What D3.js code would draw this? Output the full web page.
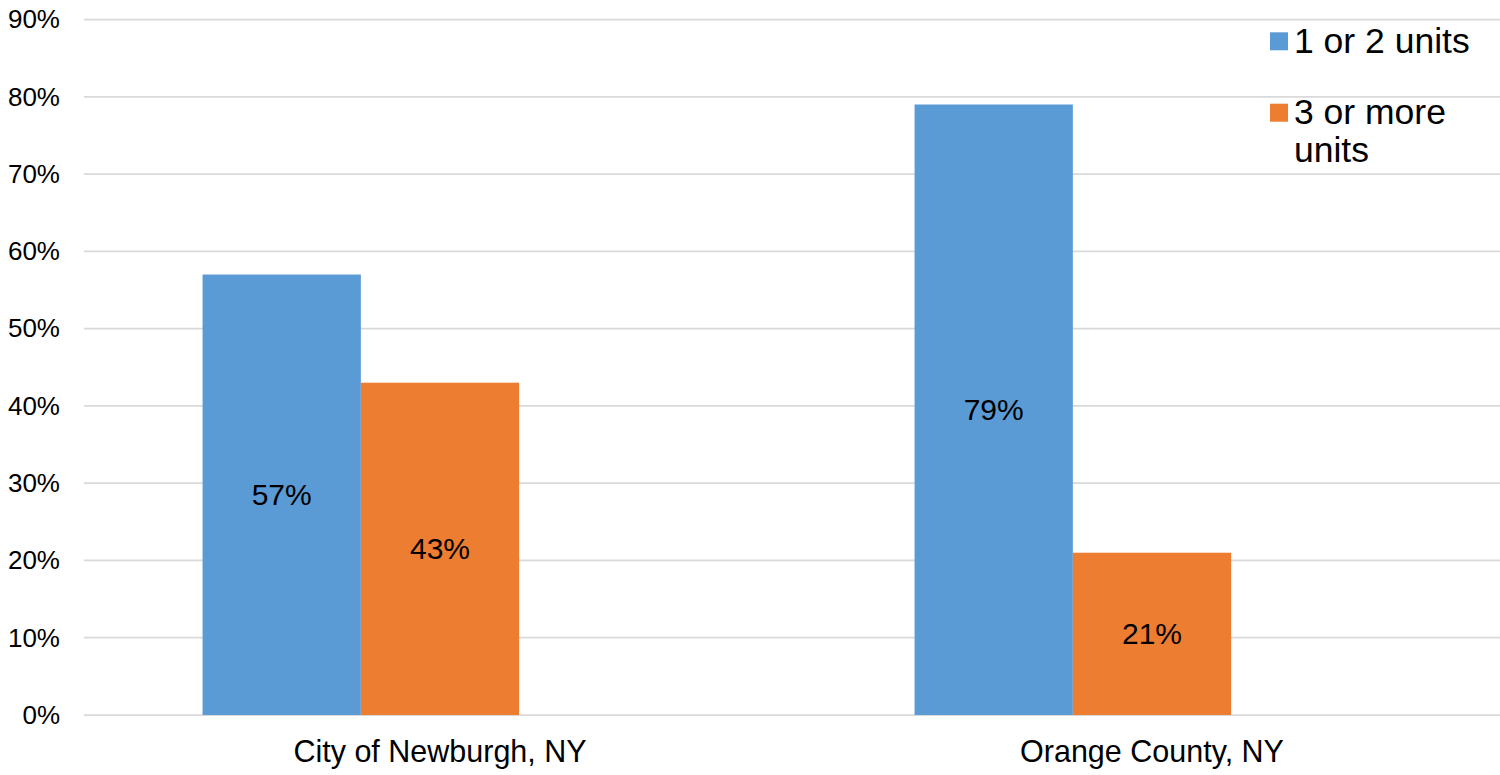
<!DOCTYPE html>
<html>
<head>
<meta charset="utf-8">
<script src="https://cdn.jsdelivr.net/npm/d3@7"></script>
<style>
  html, body { margin: 0; padding: 0; background: #fff; }
  svg { display: block; font-family: "Liberation Sans", Arial, sans-serif; }
</style>
</head>
<body>
<svg id="chart" width="1500" height="775"></svg>
<script>
// Housing structure type: share of units by building size
const categories = ["City of Newburgh, NY", "Orange County, NY"];
const seriesNames = ["1 or 2 units", "3 or more units"];
const oneOrTwoUnits = [0.57, 0.79];
const threeOrMoreUnits = [0.43, 0.21];
const yTicks = [0, 0.1, 0.2, 0.3, 0.4, 0.5, 0.6, 0.7, 0.8, 0.9];
const colors = ["#5B9BD5", "#ED7D31"];

const seriesValues = [oneOrTwoUnits, threeOrMoreUnits];
const rows = categories.map((c, i) => ({
  category: c,
  values: seriesNames.map((s, j) => ({ series: s, idx: j, value: seriesValues[j][i] }))
}));

const svg = d3.select("#chart");

const plot = { left: 84, right: 1508, top: 19.5, bottom: 715 };

const x0 = d3.scaleBand()
  .domain(categories)
  .range([plot.left, plot.right])
  .padding(0);

// Each cluster has room for three bar slots; the series fill the first two.
const x1 = d3.scaleBand()
  .domain(d3.range(3))
  .range([0, x0.bandwidth()])
  .paddingInner(0)
  .paddingOuter(0.749);

const y = d3.scaleLinear()
  .domain([0, 0.9])
  .range([plot.bottom, plot.top]);

// Horizontal gridlines
svg.append("g")
  .selectAll("line")
  .data(yTicks)
  .join("line")
  .attr("x1", plot.left)
  .attr("x2", plot.right)
  .attr("y1", d => y(d))
  .attr("y2", d => y(d))
  .attr("stroke", "#d9d9d9")
  .attr("stroke-width", 1.75);

// Y axis labels
const yAxis = d3.axisLeft(y)
  .tickValues(yTicks)
  .tickFormat(d3.format(".0%"))
  .tickSize(0)
  .tickPadding(24);

const yg = svg.append("g")
  .attr("transform", `translate(${plot.left},0)`)
  .call(yAxis);
yg.select(".domain").remove();
yg.selectAll("text")
  .attr("font-size", 26)
  .attr("fill", "#000")
  .attr("font-family", "Liberation Sans, Arial, sans-serif");

// Bars
const groups = svg.append("g")
  .selectAll("g")
  .data(rows)
  .join("g")
  .attr("transform", d => `translate(${x0(d.category)},0)`);

groups.selectAll("rect")
  .data(d => d.values)
  .join("rect")
  .attr("x", d => x1(d.idx))
  .attr("width", x1.bandwidth())
  .attr("y", d => y(d.value))
  .attr("height", d => y(0) - y(d.value))
  .attr("fill", d => colors[d.idx]);

// Value labels centred in each bar
groups.selectAll("text")
  .data(d => d.values)
  .join("text")
  .attr("x", d => x1(d.idx) + x1.bandwidth() / 2)
  .attr("y", d => (y(d.value) + y(0)) / 2)
  .attr("dy", "0.35em")
  .attr("text-anchor", "middle")
  .attr("font-size", 30)
  .attr("fill", "#000")
  .text(d => d3.format(".0%")(d.value));

// Category axis labels
const xAxis = d3.axisBottom(x0).tickSize(0).tickPadding(25);
const xg = svg.append("g")
  .attr("transform", `translate(0,${plot.bottom})`)
  .call(xAxis);
xg.select(".domain").remove();
xg.selectAll("text")
  .attr("font-size", 30.5)
  .attr("fill", "#000")
  .attr("font-family", "Liberation Sans, Arial, sans-serif");

// Legend
const legendItems = [
  { lines: ["1 or 2 units"], y: 32.3 },
  { lines: ["3 or more", "units"], y: 103.7 }
];
const legend = svg.append("g");
legendItems.forEach((item, i) => {
  legend.append("rect")
    .attr("x", 1270)
    .attr("y", item.y)
    .attr("width", 18)
    .attr("height", 18)
    .attr("fill", colors[i]);
  const t = legend.append("text")
    .attr("x", 1294)
    .attr("y", item.y + 20.2)
    .attr("font-size", 35.5)
    .attr("fill", "#000");
  item.lines.forEach((ln, k) => {
    t.append("tspan")
      .attr("x", 1294)
      .attr("dy", k === 0 ? 0 : 38)
      .text(ln);
  });
});
</script>
</body>
</html>
